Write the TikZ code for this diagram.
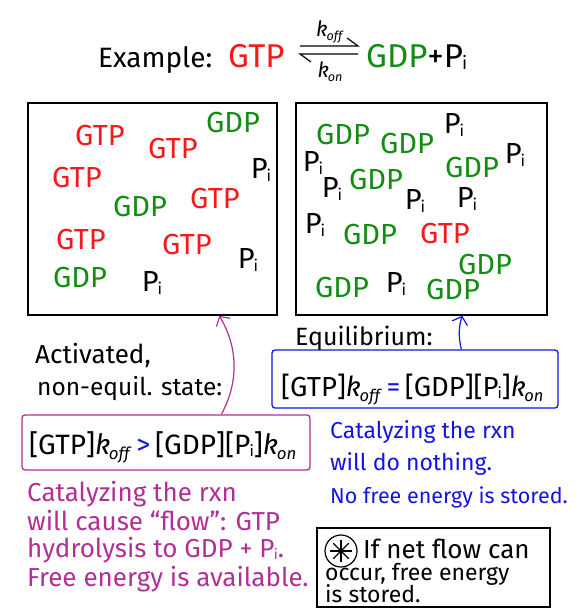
\documentclass[tikz,border=0pt]{standalone}
\usepackage{fontspec}
\usepackage{graphicx}
\setmainfont{Fira Sans}
\usetikzlibrary{arrows.meta}
\definecolor{gtpred}{RGB}{245,25,25}
\definecolor{gdpgreen}{RGB}{20,140,20}
\definecolor{magc}{RGB}{176,48,150}
\definecolor{bluec}{RGB}{20,20,225}
\newcommand\myfs[1]{\fontsize{#1}{#1}\selectfont}
\newcommand\Pim{P\kern-0.03em\raisebox{-0.08em}{\scalebox{0.55}{i}}}
\newcommand\koff{\textit{k}\kern-0.05em\raisebox{-0.2em}{\scalebox{0.6}{\textit{off}}}}
\newcommand\kon{\textit{k}\kern-0.05em\raisebox{-0.2em}{\scalebox{0.6}{\textit{on}}}}
\begin{document}
\begin{tikzpicture}[x=1pt,y=-1pt,
  mol/.style={inner sep=0pt, font=\myfs{29}},
  gtp/.style={mol, text=gtpred},
  gdp/.style={mol, text=gdpgreen},
  pii/.style={mol, text=black},
  chamber/.style={draw, line width=1.6pt, inner sep=0pt},
  txt/.style={anchor=base west, inner sep=0pt},
  rate/.style={draw, line width=1.3pt, rounded corners=3pt, inner sep=0pt},
  tip/.style={-{Straight Barb[length=7pt,width=16pt,line width=1.2pt]}, line width=1.2pt}
]
\useasboundingbox (0,0) rectangle (580,613);
% title
\node[txt, font=\myfs{28}] (ex) at (98,67) {Example:};
\node[txt, font=\myfs{33}, text=gtpred] (tg) at (228,67) {GTP};
\node[txt, font=\myfs{33}] (tp) at (366,67) {\textcolor{gdpgreen}{GDP}+\Pim};
\draw[line width=1.2pt] (300,46) -- (358,46) -- (347,38);
\draw[line width=1.2pt] (358,54) -- (300,54) -- (311,62);
\node[font=\myfs{21}, inner sep=0pt] (ko) at (330,32) {\koff};
\node[font=\myfs{21}, inner sep=0pt] (kn) at (330,72) {\kon};
% chambers
\node[chamber, minimum width=249pt, minimum height=212pt] (boxA) at (152.5,209) {};
\node[chamber, minimum width=251pt, minimum height=212pt] (boxB) at (421.5,209) {};
% left chamber contents
\node[gtp] (l1) at (100,136) {GTP};
\node[gtp] (l2) at (173,149) {GTP};
\node[gdp] (l3) at (233,123) {GDP};
\node[pii] (l4) at (261,170) {\Pim};
\node[gtp] (l5) at (77,178) {GTP};
\node[gdp] (l6) at (140,207) {GDP};
\node[gtp] (l7) at (215,199) {GTP};
\node[gtp] (l8) at (81,240) {GTP};
\node[gtp] (l9) at (187,245) {GTP};
\node[pii] (l10) at (248,260) {\Pim};
\node[gdp] (l11) at (80,278) {GDP};
\node[pii] (l12) at (152,283) {\Pim};
% right chamber contents
\node[gdp] (r1) at (343,135) {GDP};
\node[gdp] (r2) at (407,144) {GDP};
\node[pii] (r3) at (454,125) {\Pim};
\node[pii] (r4) at (515,155) {\Pim};
\node[gdp] (r5) at (472,168) {GDP};
\node[pii] (r6) at (313,163) {\Pim};
\node[pii] (r7) at (332,189) {\Pim};
\node[gdp] (r8) at (376,180) {GDP};
\node[pii] (r9) at (415,201) {\Pim};
\node[pii] (r10) at (467,199) {\Pim};
\node[pii] (r11) at (315,225) {\Pim};
\node[gdp] (r12) at (370,235) {GDP};
\node[gtp] (r13) at (445,234) {GTP};
\node[gdp] (r14) at (485,265) {GDP};
\node[gdp] (r15) at (342,288) {GDP};
\node[pii] (r16) at (396,284) {\Pim};
\node[gdp] (r17) at (453,290) {GDP};
% left lower: activated state
\node[txt, font=\myfs{26}] (act1) at (35,363) {Activated,};
\node[txt, font=\myfs{24.5}] (act2) at (37,395) {non-equil. state:};
\node[rate, draw=magc, minimum width=288pt, minimum height=55pt] (mag) at (166,442.5) {};
\node[txt, font=\myfs{28}] (magtxt) at (29,454) {[GTP]\koff\,\textcolor{bluec}{>}\,[GDP][\Pim]\kon};
\path (mag.north west) ++(200,0) coordinate (magtop);
\path (boxA.south west) ++(192,0) coordinate (boxAin);
\draw[tip, draw=magc] (magtop) .. controls (240,380) and (237,345) .. (boxAin);
\node[txt, font=\myfs{26}, text=magc] (m1) at (27,501) {Catalyzing the rxn};
\node[txt, font=\myfs{26}, text=magc] (m2) at (27,530) {will cause ``flow'': GTP};
\node[txt, font=\myfs{26}, text=magc] (m3) at (27,557) {hydrolysis to GDP + \Pim.};
\node[txt, font=\myfs{26}, text=magc] (m4) at (27,586) {Free energy is available.};
% right lower: equilibrium
\node[txt, font=\myfs{25}] (eq) at (295,345) {Equilibrium:};
\node[rate, draw=bluec, minimum width=286pt, minimum height=58pt] (blu) at (415,379) {};
\node[txt, font=\myfs{27.5}] (blutxt) at (281,396) {[GTP]\koff\,\textcolor{bluec}{=}\,[GDP][\Pim]\kon};
\path (blu.north west) ++(190,0) coordinate (blutop);
\path (boxB.south west) ++(167,0) coordinate (boxBin);
\draw[tip, draw=bluec] (blutop) .. controls (458,336) and (459,326) .. (boxBin);
\node[txt, font=\myfs{23}, text=bluec] (b1) at (330,438) {Catalyzing the rxn};
\node[txt, font=\myfs{23}, text=bluec] (b2) at (330,470) {will do nothing.};
\node[txt, font=\myfs{21.5}, text=bluec] (b3) at (330,503) {No free energy is stored.};
% note box
\node[draw, line width=1.3pt, inner sep=0pt, minimum width=233pt, minimum height=79pt] (note) at (433.5,567.5) {};
\node[circle, draw, line width=1.2pt, minimum size=32pt, inner sep=0pt] (star) at (341,551) {};
\foreach \a in {0,45,90,135}
  \draw[line width=1.1pt] (star.center) ++(\a:11pt) -- ++(\a+180:22pt);
\node[txt, font=\myfs{26}] (n1) at (363,558) {If net flow can};
\node[txt, font=\myfs{23}] (n2) at (325,580) {occur, free energy};
\node[txt, font=\myfs{23}] (n3) at (325,602) {is stored.};
\end{tikzpicture}
\end{document}
